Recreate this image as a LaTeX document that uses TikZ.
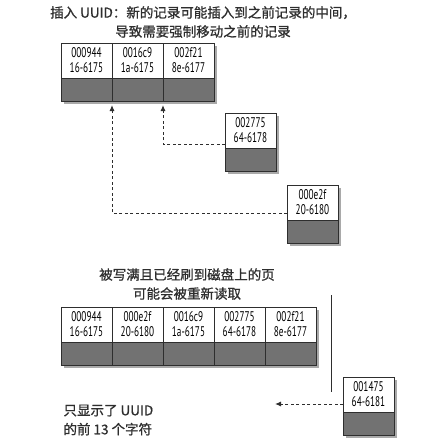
\documentclass[tikz,border=0pt]{standalone}
\usepackage{fontspec}
\usepackage{graphicx}
\usepackage{tikz}
\usetikzlibrary{arrows.meta,positioning,shadows}
\newfontfamily\cjk[AutoFakeBold=0.9]{Noto Sans CJK SC}
\newfontfamily\numfont{PT Sans}
\newcommand\uid[2]{\scalebox{.66}[1]{#1}\\\scalebox{.66}[1]{#2}}
\definecolor{ink}{HTML}{2E2E2E}
\definecolor{padgray}{HTML}{727272}
\definecolor{shade}{HTML}{A0A0A0}

\begin{document}
\begin{tikzpicture}[x=1pt,y=-1pt,node distance=0pt,>=Latex,
 rec/.style={draw=ink,thick,fill=white,outer sep=0pt,inner sep=0pt,minimum width=51pt,minimum height=35pt,align=center,
  font=\numfont\fontsize{14}{15}\selectfont,drop shadow={shadow xshift=3pt,shadow yshift=-3pt,fill=shade,opacity=.9}},
 pad/.style={draw=ink,thick,fill=padgray,outer sep=0pt,inner sep=0pt,minimum width=51pt,minimum height=23pt,
  drop shadow={shadow xshift=3pt,shadow yshift=-3pt,fill=shade,opacity=.9}},
 note/.style={font=\cjk\bfseries\fontsize{13.5}{19}\selectfont,align=center,text=ink},
 link/.style={->,line width=1pt,draw=ink,dash pattern=on 3pt off 2.5pt,arrows={-Latex[length=6pt,width=5pt]}}]
 \useasboundingbox (0,0) rectangle (431,447);
 % captions
 \node[note] (head) at (203,22) {插入 UUID：新的记录可能插入到之前记录的中间，\\导致需要强制移动之前的记录};
 \node[note] (mid) at (187,284) {被写满且已经刷到磁盘上的页\\可能会被重新读取};
 \node[note,align=left,anchor=west] (hint) at (60,420) {只显示了 UUID\\的前 13 个字符};
 % page before the insert
 \node[rec,anchor=north west] (t1) at (61,43) {\uid{000944}{16-6175}};
 \node[rec,right=of t1] (t2) {\uid{0016c9}{1a-6175}};
 \node[rec,right=of t2] (t3) {\uid{002f21}{8e-6177}};
 \node[pad,below=of t1] (t1p) {};
 \node[pad,below=of t2] (t2p) {};
 \node[pad,below=of t3] (t3p) {};
 % new records
 \node[rec,anchor=north west] (n1) at (225,113) {\uid{002775}{64-6178}};
 \node[pad,below=of n1] (n1p) {};
 \node[rec,anchor=north west] (n2) at (287,185) {\uid{000e2f}{20-6180}};
 \node[pad,below=of n2] (n2p) {};
 \draw[link] ([yshift=4pt]n1.south west) -| ([yshift=-4pt]t2p.south east);
 \draw[link] ([yshift=7pt]n2.south west) -| ([yshift=-4pt]t1p.south east);
 % page read back from disk
 \node[rec,anchor=north west] (m1) at (61,307) {\uid{000944}{16-6175}};
 \node[rec,right=of m1] (m2) {\uid{000e2f}{20-6180}};
 \node[rec,right=of m2] (m3) {\uid{0016c9}{1a-6175}};
 \node[rec,right=of m3] (m4) {\uid{002775}{64-6178}};
 \node[rec,right=of m4] (m5) {\uid{002f21}{8e-6177}};
 \foreach \i in {1,...,5} \node[pad,below=of m\i] (m\i p) {};
 \draw[ink,thick] (331,295) -- (331,392);
 \node[rec,anchor=north west] (n3) at (343,377) {\uid{001475}{64-6181}};
 \node[pad,below=of n3] (n3p) {};
 \coordinate (tip) at (275,404);
 \draw[link] ([yshift=8pt]n3.south west) -- (tip);
\end{tikzpicture}
\end{document}
